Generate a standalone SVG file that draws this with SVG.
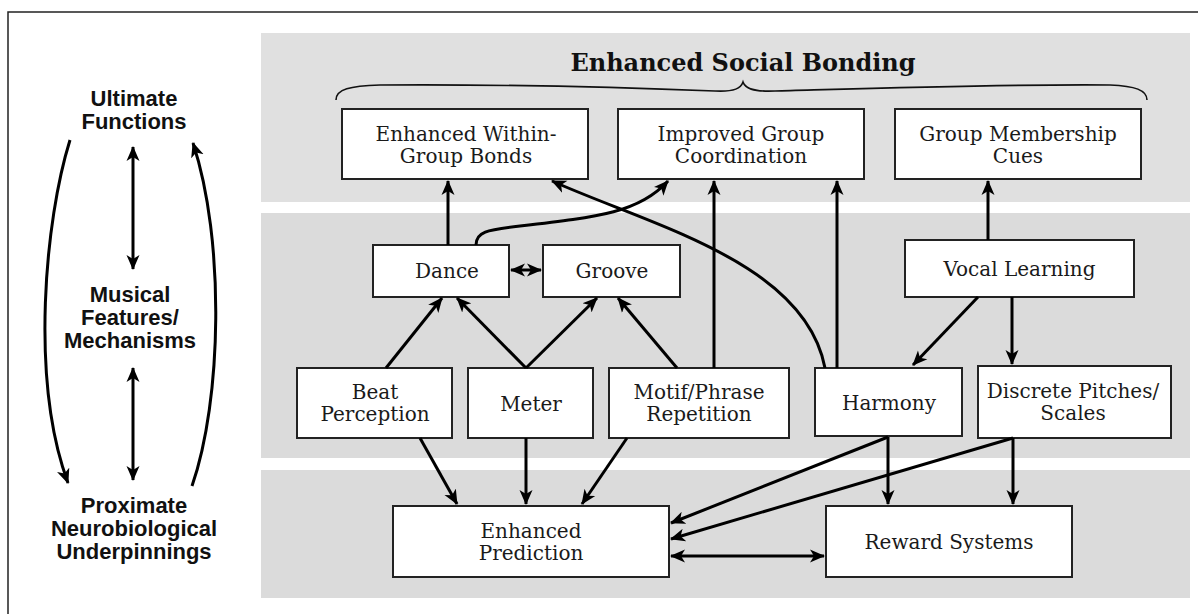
<svg xmlns="http://www.w3.org/2000/svg" width="1198" height="614" viewBox="0 0 1198 614">
<style>
.panelA{fill:#e0e0e0}
.panelB{fill:#dbdbdb}
.box{fill:#ffffff;stroke:#222;stroke-width:2}
.t{font-family:"DejaVu Serif","Liberation Serif",serif;font-size:20px;fill:#1a1a1a;text-anchor:middle}
.side{font-family:"Liberation Sans",Arial,sans-serif;font-weight:bold;font-size:22px;fill:#111;text-anchor:middle}
.title{font-family:"DejaVu Serif","Liberation Serif",serif;font-weight:bold;font-size:24px;fill:#111;text-anchor:middle}
.c{fill:none;stroke:#000;stroke-width:3}
.a{marker-end:url(#ah)}
.d{marker-start:url(#ah);marker-end:url(#ah)}
</style>
<defs>
<marker id="ah" markerUnits="userSpaceOnUse" markerWidth="16" markerHeight="14" viewBox="0 0 16 14" refX="14" refY="7" orient="auto-start-reverse">
<path d="M0,0.5 L15,7 L0,13.5 L4,7 Z" fill="#000"/>
</marker>
</defs>
<rect width="1198" height="614" fill="#ffffff"/>
<path d="M8,620 L8,12 L1200,12" fill="none" stroke="#222" stroke-width="1.5"/>
<g id="panels">
<rect class="panelA" x="261" y="33" width="929" height="169"/>
<rect class="panelB" x="261" y="213" width="929" height="245"/>
<rect class="panelB" x="261" y="470" width="929" height="128"/>
</g>
<g id="title">
<text class="title" x="743" y="71">Enhanced Social Bonding</text>
<path d="M336,100 C336,89 350,86 380,85 C520,84 640,88 715,91 C735,92 741,88 743,82 C745,88 752,92 775,91 C850,89 1000,84 1110,85 C1135,86 1147,90 1147,100" fill="none" stroke="#111" stroke-width="1.6"/>
</g>
<g id="side-labels">
<text class="side" x="134" y="106">Ultimate</text>
<text class="side" x="134" y="129">Functions</text>
<text class="side" x="130" y="302">Musical</text>
<text class="side" x="130" y="325">Features/</text>
<text class="side" x="130" y="348">Mechanisms</text>
<text class="side" x="134" y="513">Proximate</text>
<text class="side" x="134" y="536">Neurobiological</text>
<text class="side" x="134" y="559">Underpinnings</text>
</g>
<g id="n-ewgb"><rect class="box" x="342" y="109" width="246" height="70"/><text class="t" x="466" y="141">Enhanced Within-</text><text class="t" x="466" y="163">Group Bonds</text></g>
<g id="n-igc"><rect class="box" x="618" y="109" width="246" height="70"/><text class="t" x="741" y="141">Improved Group</text><text class="t" x="741" y="163">Coordination</text></g>
<g id="n-gmc"><rect class="box" x="895" y="109" width="246" height="70"/><text class="t" x="1018" y="141">Group Membership</text><text class="t" x="1018" y="163">Cues</text></g>
<g id="n-dance"><rect class="box" x="373" y="245" width="136" height="52"/><text class="t" x="447" y="278">Dance</text></g>
<g id="n-groove"><rect class="box" x="543" y="245" width="137" height="52"/><text class="t" x="612" y="278">Groove</text></g>
<g id="n-vocal"><rect class="box" x="905" y="240" width="229" height="57"/><text class="t" x="1019.5" y="276">Vocal Learning</text></g>
<g id="n-beat"><rect class="box" x="297" y="368" width="155" height="70"/><text class="t" x="375" y="399">Beat</text><text class="t" x="375" y="421">Perception</text></g>
<g id="n-meter"><rect class="box" x="468" y="368" width="125" height="70"/><text class="t" x="531" y="411">Meter</text></g>
<g id="n-motif"><rect class="box" x="609" y="368" width="180" height="70"/><text class="t" x="699" y="399">Motif/Phrase</text><text class="t" x="699" y="421">Repetition</text></g>
<g id="n-harmony"><rect class="box" x="815" y="368" width="147" height="68"/><text class="t" x="889" y="410">Harmony</text></g>
<g id="n-discrete"><rect class="box" x="978" y="366" width="193" height="72"/><text class="t" x="1073" y="398">Discrete Pitches/</text><text class="t" x="1073" y="420">Scales</text></g>
<g id="n-ep"><rect class="box" x="393" y="506" width="276" height="71"/><text class="t" x="531" y="538">Enhanced</text><text class="t" x="531" y="560">Prediction</text></g>
<g id="n-reward"><rect class="box" x="826" y="506" width="246" height="71"/><text class="t" x="949" y="549">Reward Systems</text></g>
<g id="connectors">
<path class="c d" d="M133,147 L133,269"/>
<path class="c d" d="M133,368 L133,480"/>
<path class="c a" d="M70,140 C45,220 30,380 68,483"/>
<path class="c a" d="M192,486 C222,400 225,240 193,143"/>
<path class="c a" d="M448,245 L448,181"/>
<path class="c a" d="M476,245 C476,232 486,230 520,226 C600,217 640,212 668,181"/>
<path class="c a" d="M825,368 C805,262 650,225 552,181"/>
<path class="c a" d="M714,368 L714,181"/>
<path class="c a" d="M837,368 L837,181"/>
<path class="c a" d="M988,240 L988,181"/>
<path class="c d" d="M511,270 L541,270"/>
<path class="c a" d="M386,368 L442,298"/>
<path class="c a" d="M526,368 L457,298"/>
<path class="c a" d="M526,368 L597,298"/>
<path class="c a" d="M677,368 L618,298"/>
<path class="c a" d="M978,297 L913,365"/>
<path class="c a" d="M1012,297 L1012,364"/>
<path class="c a" d="M420,438 L457,504"/>
<path class="c a" d="M526,438 L526,504"/>
<path class="c a" d="M627,438 L582,504"/>
<path class="c a" d="M888,437 L671,523"/>
<path class="c a" d="M888,437 L888,504"/>
<path class="c a" d="M1013,438 L671,539"/>
<path class="c a" d="M1013,438 L1013,504"/>
<path class="c d" d="M671,556 L824,556"/>
</g>
</svg>
